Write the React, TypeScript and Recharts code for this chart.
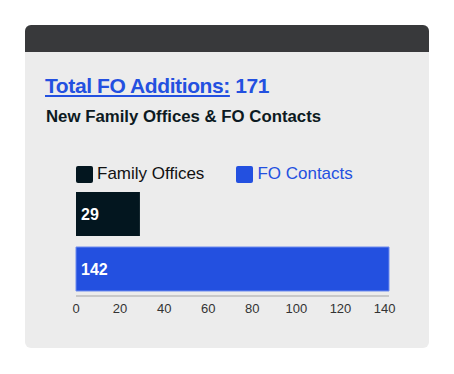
import { Bar, BarChart, LabelList, Legend, XAxis, YAxis } from "recharts";

const CATEGORIES = ["New Additions"];
const FAMILY_OFFICES = [29];
const FO_CONTACTS = [142];
const X_TICKS = [0, 20, 40, 60, 80, 100, 120, 140];
const TOTAL = 171;

const DARK = "#03161F";
const BLUE = "#2350E0";
const FONT = "'Liberation Sans', Arial, sans-serif";

const data = CATEGORIES.map((name, i) => ({
  name,
  familyOffices: FAMILY_OFFICES[i],
  foContacts: FO_CONTACTS[i],
}));

function LegendContent() {
  const items = [
    { label: "Family Offices", color: DARK, text: "#111" },
    { label: "FO Contacts", color: BLUE, text: BLUE },
  ];
  return (
    <div style={{ display: "flex", gap: 32, fontFamily: FONT, fontSize: 17 }}>
      {items.map((it) => (
        <div key={it.label} style={{ display: "flex", alignItems: "center", gap: 4 }}>
          <span
            style={{
              width: 17,
              height: 17,
              borderRadius: 2,
              background: it.color,
              display: "inline-block",
            }}
          />
          <span style={{ color: it.text }}>{it.label}</span>
        </div>
      ))}
    </div>
  );
}

export default function App() {
  return (
    <div style={{ marginLeft: 17, marginTop: 17, width: 404, height: 323 }}>
      <div
        style={{
          width: 404,
          height: 323,
          borderRadius: 6,
          overflow: "hidden",
          background: "#ECECEC",
          fontFamily: FONT,
          position: "relative",
        }}
      >
        <div style={{ height: 27, background: "#38393B" }} />
        <div
          style={{
            position: "absolute",
            left: 20,
            top: 49,
            fontSize: 21,
            fontWeight: 700,
            color: BLUE,
            letterSpacing: -0.4,
          }}
        >
          <span style={{ textDecoration: "underline" }}>Total FO Additions:</span> {TOTAL}
        </div>
        <div
          style={{
            position: "absolute",
            left: 21,
            top: 82,
            fontSize: 16.8,
            fontWeight: 700,
            color: "#0D1A22",
          }}
        >
          New Family Offices &amp; FO Contacts
        </div>
        <div style={{ position: "absolute", left: 0, top: 136 }}>
          <BarChart
            width={404}
            height={165}
            data={data}
            layout="vertical"
            margin={{ top: 0, right: 40, bottom: 0, left: 51 }}
            barSize={44}
            barGap={11}
          >
            <Legend
              verticalAlign="top"
              align="left"
              content={<LegendContent />}
              wrapperStyle={{ left: 51, top: 3 }}
              height={25}
            />
            <XAxis
              type="number"
              domain={[0, "dataMax"]}
              ticks={X_TICKS}
              tickLine={false}
              axisLine={{ stroke: "#C8C8C8", strokeWidth: 2 }}
              tick={{ fill: "#333", fontSize: 13, fontFamily: FONT }}
              height={30}
            />
            <YAxis
              type="category"
              dataKey="name"
              width={0}
              tick={false}
              tickLine={false}
              axisLine={{ stroke: "#999", strokeWidth: 1 }}
            />
            <Bar dataKey="familyOffices" name="Family Offices" fill={DARK} isAnimationActive={false}>
              <LabelList
                dataKey="familyOffices"
                position="insideLeft"
                fill="#fff"
                style={{ fontSize: 16, fontWeight: 700, fontFamily: FONT }}
              />
            </Bar>
            <Bar
              dataKey="foContacts"
              name="FO Contacts"
              fill={BLUE}
              stroke="#6F8BEE"
              strokeWidth={1}
              isAnimationActive={false}
            >
              <LabelList
                dataKey="foContacts"
                position="insideLeft"
                fill="#fff"
                style={{ fontSize: 16, fontWeight: 700, fontFamily: FONT }}
              />
            </Bar>
          </BarChart>
        </div>
      </div>
    </div>
  );
}
